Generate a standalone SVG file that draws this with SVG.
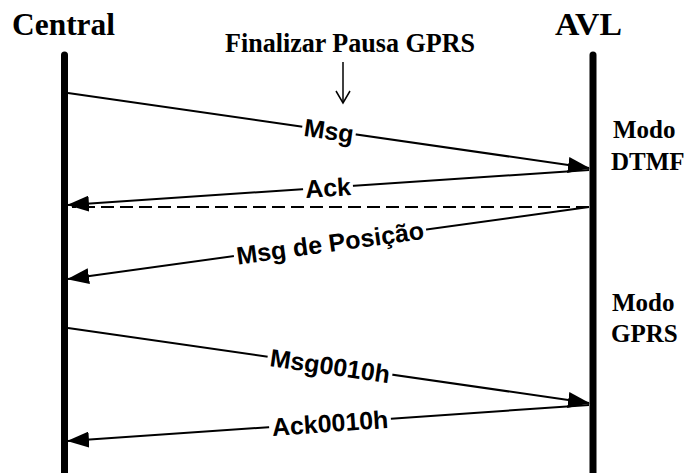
<svg xmlns="http://www.w3.org/2000/svg" width="688" height="473" viewBox="0 0 688 473">
  <style>
    .title { font-family: "Liberation Serif", "Times New Roman", serif; font-weight: bold; font-size: 31px; fill: #000; }
    .note { font-family: "Liberation Serif", "Times New Roman", serif; font-weight: bold; font-size: 25px; fill: #000; }
    .event { font-family: "Liberation Serif", "Times New Roman", serif; font-weight: bold; font-size: 28px; fill: #000; }
    .lifeline { stroke: #000; stroke-width: 7; stroke-linecap: round; fill: none; }
    .msg { stroke: #000; stroke-width: 2; fill: none; marker-end: url(#head); }
    .dash { stroke: #000; stroke-width: 2; fill: none; stroke-dasharray: 13 6; }
    .label { font-family: "Liberation Sans", Arial, sans-serif; font-weight: bold; font-size: 25px; fill: #000; text-anchor: middle; dominant-baseline: central; }
    .bg { fill: #fff; }
  </style>
  <defs>
    <marker id="head" markerUnits="userSpaceOnUse" markerWidth="22" markerHeight="16" refX="21" refY="8" orient="auto">
      <path d="M0,0 L22,8 L0,16 Z" fill="#000"/>
    </marker>
  </defs>

  <rect width="688" height="473" fill="#fff"/>

  <!-- participants -->
  <g id="central">
    <text class="title" x="12" y="35" textLength="103" lengthAdjust="spacingAndGlyphs">Central</text>
    <line class="lifeline" x1="64.5" y1="55" x2="64.5" y2="480"/>
  </g>
  <g id="avl">
    <text class="title" x="555" y="35" textLength="67" lengthAdjust="spacingAndGlyphs">AVL</text>
    <line class="lifeline" x1="593" y1="55" x2="593" y2="480"/>
  </g>

  <!-- trigger event -->
  <g id="finalizar">
    <text class="event" x="225" y="52" textLength="250" lengthAdjust="spacingAndGlyphs">Finalizar Pausa GPRS</text>
    <line x1="343" y1="62" x2="343" y2="102" stroke="#000" stroke-width="1.5"/>
    <polyline points="336,91 343,103 350,91" fill="none" stroke="#000" stroke-width="1.5"/>
  </g>

  <!-- mode notes -->
  <g id="modo-dtmf">
    <text class="note" x="613" y="138">Modo</text>
    <text class="note" x="611" y="170">DTMF</text>
  </g>
  <g id="modo-gprs">
    <text class="note" x="612" y="311">Modo</text>
    <text class="note" x="611" y="342">GPRS</text>
  </g>

  <!-- messages -->
  <g id="connectors">
    <line class="msg" x1="68" y1="93" x2="589" y2="168"/>
    <line class="msg" x1="589" y1="170" x2="68" y2="205"/>
    <line class="dash" x1="589" y1="207" x2="72" y2="207"/>
    <line class="msg" x1="589" y1="207" x2="68" y2="279"/>
    <line class="msg" x1="68" y1="328" x2="589" y2="403"/>
    <line class="msg" x1="589" y1="405" x2="68" y2="441"/>

    <g transform="translate(329,130.5) rotate(8.2)">
      <rect class="bg" x="-27" y="-11" width="54" height="22"/>
      <text class="label" x="0" y="0">Msg</text>
    </g>
    <g transform="translate(328,187.5) rotate(-3.84)">
      <rect class="bg" x="-25" y="-11" width="50" height="22"/>
      <text class="label" x="0" y="0">Ack</text>
    </g>
    <g transform="translate(330,242.8) rotate(-7.87)">
      <rect class="bg" x="-97" y="-11" width="194" height="22"/>
      <text class="label" x="0" y="0">Msg de Posição</text>
    </g>
    <g transform="translate(330,365.7) rotate(8.2)">
      <rect class="bg" x="-63" y="-11" width="126" height="22"/>
      <text class="label" x="0" y="0">Msg0010h</text>
    </g>
    <g transform="translate(330,422.9) rotate(-3.95)">
      <rect class="bg" x="-61" y="-11" width="122" height="22"/>
      <text class="label" x="0" y="0">Ack0010h</text>
    </g>
  </g>
</svg>
